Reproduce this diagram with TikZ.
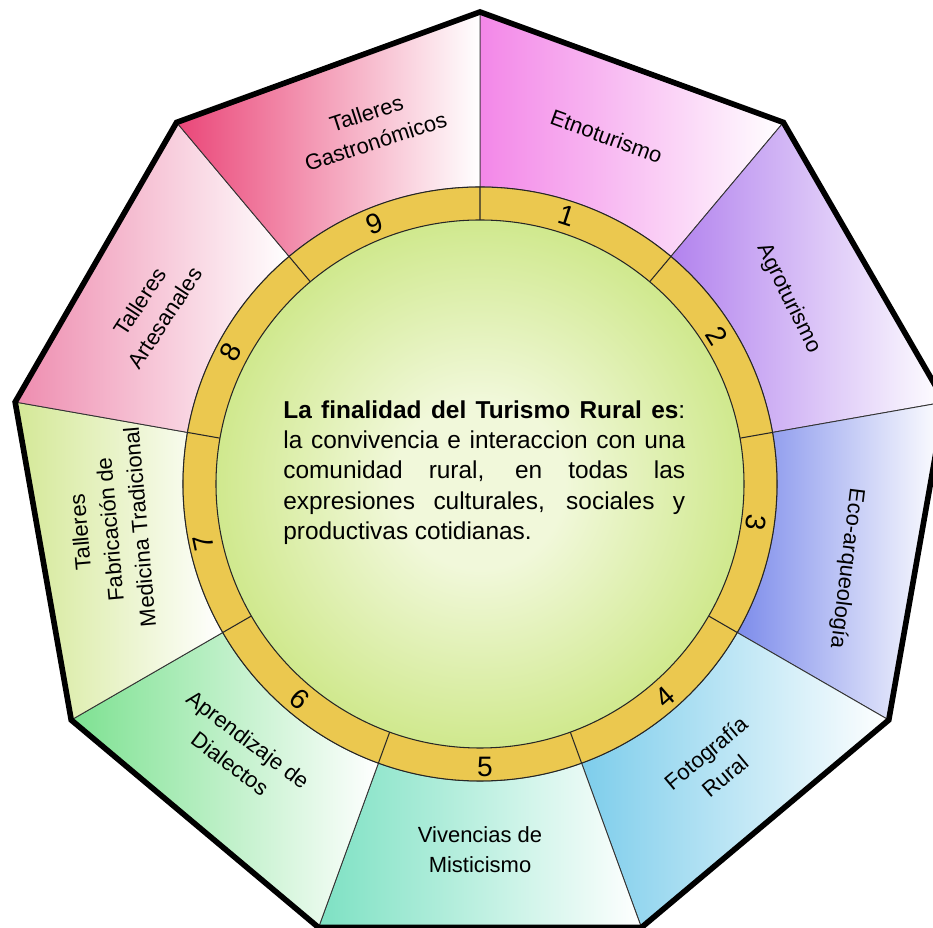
\documentclass[tikz,border=0pt]{standalone}
\usepackage{fontspec}
\setmainfont{Liberation Sans}
\usetikzlibrary{shadings}
\definecolor{etno}{HTML}{F387E8}
\definecolor{agro}{HTML}{B282EE}
\definecolor{arqueo}{HTML}{7D8CEB}
\definecolor{foto}{HTML}{7DCDEB}
\definecolor{mistic}{HTML}{7DE1C3}
\definecolor{dialect}{HTML}{7DE191}
\definecolor{medic}{HTML}{D4E896}
\definecolor{artes}{HTML}{EE8CAF}
\definecolor{gastro}{HTML}{EA4678}
\definecolor{ringyellow}{HTML}{EBC84F}
\definecolor{centrelight}{HTML}{F1F8DA}
\definecolor{centremid}{HTML}{C6E477}
\definecolor{centregreen}{HTML}{A4D432}
\pgfdeclareradialshading{centreglow}{\pgfpoint{0bp}{0bp}}{%
  color(0bp)=(centrelight); color(8bp)=(centrelight);
  color(30bp)=(centremid); color(50bp)=(centregreen)}
\tikzstyle{sector} = [draw=black!80, line width=0.5pt, right color=white]
\tikzstyle{border} = [draw=black, line width=3.2pt]
\tikzstyle{ringline} = [draw=black!85, line width=0.6pt]
\tikzstyle{seclabel} = [align=center, inner sep=0pt,
  font=\fontsize{12.5}{17}\selectfont]
\tikzstyle{ringnum} = [inner sep=0pt, font=\fontsize{16}{19}\selectfont]
\tikzstyle{aimtext} = [text width=8.04cm, align=justify, inner sep=0pt,
  font=\fontsize{13.9}{17.3}\selectfont]

\begin{document}
\begin{tikzpicture}[x=0.02cm, y=0.02cm]
  \useasboundingbox (-480,-444) rectangle (453,484);
  \clip (-480,-444) rectangle (453,484);

  % outer sectors
  \path [sector, left color=etno] (90:297) -- (90:472) -- (50:472) -- (50:297)
    arc[start angle=50, end angle=90, radius=297] -- cycle;
  \path [sector, left color=agro] (50:297) -- (50:472) -- (10:472) -- (10:297)
    arc[start angle=10, end angle=50, radius=297] -- cycle;
  \path [sector, left color=arqueo] (10:297) -- (10:472) -- (-30:472) -- (-30:297)
    arc[start angle=-30, end angle=10, radius=297] -- cycle;
  \path [sector, left color=foto] (-30:297) -- (-30:472) -- (-70:472) -- (-70:297)
    arc[start angle=-70, end angle=-30, radius=297] -- cycle;
  \path [sector, left color=mistic] (-70:297) -- (-70:472) -- (-110:472) -- (-110:297)
    arc[start angle=-110, end angle=-70, radius=297] -- cycle;
  \path [sector, left color=dialect] (-110:297) -- (-110:472) -- (-150:472) -- (-150:297)
    arc[start angle=-150, end angle=-110, radius=297] -- cycle;
  \path [sector, left color=medic] (210:297) -- (210:472) -- (170:472) -- (170:297)
    arc[start angle=170, end angle=210, radius=297] -- cycle;
  \path [sector, left color=artes] (170:297) -- (170:472) -- (130:472) -- (130:297)
    arc[start angle=130, end angle=170, radius=297] -- cycle;
  \path [sector, left color=gastro] (130:297) -- (130:472) -- (90:472) -- (90:297)
    arc[start angle=90, end angle=130, radius=297] -- cycle;

  % ring and centre
  \path [ringline, fill=ringyellow] (0,0) circle[radius=297];
  \shade [shading=centreglow] (0,0) circle[radius=264];
  \draw [ringline] (0,0) circle[radius=264];
  \draw [ringline] (90:264) -- (90:297) (50:264) -- (50:297) (10:264) -- (10:297)
    (-30:264) -- (-30:297) (-70:264) -- (-70:297) (-110:264) -- (-110:297)
    (-150:264) -- (-150:297) (170:264) -- (170:297) (130:264) -- (130:297);

  % nonagon outline
  \draw [border] (90:472) -- (50:472) -- (10:472) -- (-30:472) -- (-70:472)
    -- (-110:472) -- (-150:472) -- (170:472) -- (130:472) -- cycle;

  % sector labels
  \node (etnolbl) [seclabel, rotate=-20] at (70:370) {Etnoturismo};
  \node (agrolbl) [seclabel, rotate=-64] at (31:360) {Agroturismo};
  \node (arqueolbl) [seclabel, rotate=-97] at (-13:376) {Eco-arqueología};
  \node (fotolbl) [seclabel, rotate=40] at (-50:366) {Fotografía\\Rural};
  \node (misticlbl) [seclabel] at (-90:366) {Vivencias de\\Misticismo};
  \node (dialectlbl) [seclabel, rotate=-37] at (-132:360)
    {Aprendizaje de\\Dialectos};
  \node (mediclbl) [seclabel, rotate=95] at (187:373)
    {Talleres\\Fabricación de\\Medicina Tradicional};
  \node (arteslbl) [seclabel, rotate=57] at (152:371) {Talleres\\Artesanales};
  \node (gastrolbl) [seclabel, rotate=18] at (107:373)
    {Talleres\\Gastronómicos};

  % ring numbers
  \node (n1) [ringnum, rotate=-18] at (72:282) {1};
  \node (n2) [ringnum, rotate=-58] at (32:279) {2};
  \node (n3) [ringnum, rotate=-98] at (-8:279) {3};
  \node (n4) [ringnum, rotate=41] at (-49:282) {4};
  \node (n5) [ringnum] at (-89:283) {5};
  \node (n6) [ringnum, rotate=-40] at (-130:281) {6};
  \node (n7) [ringnum, rotate=102] at (192:283) {7};
  \node (n8) [ringnum, rotate=62] at (152:282) {8};
  \node (n9) [ringnum, rotate=20] at (112:281) {9};

  % centre text
  \node (aim) [aimtext, anchor=north west] at (-197,84)
    {\textbf{La finalidad del Turismo Rural es}:\linebreak
     la convivencia e interaccion con una\linebreak
     comunidad rural, en todas las\linebreak
     expresiones culturales, sociales y\linebreak
     productivas cotidianas.};
\end{tikzpicture}
\end{document}
